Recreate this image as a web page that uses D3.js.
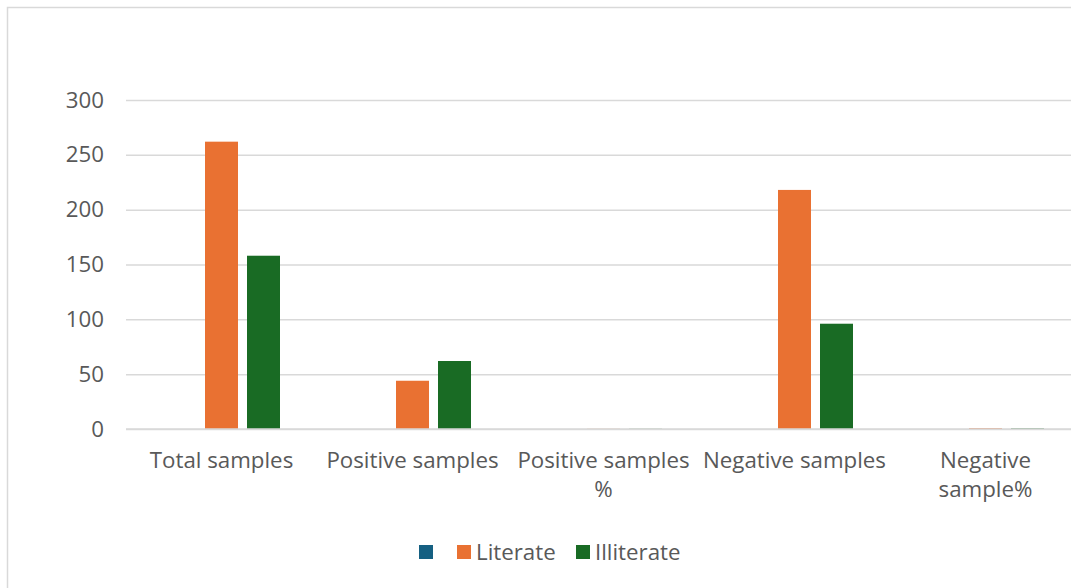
<!DOCTYPE html>
<html><head><meta charset="utf-8">
<script src="https://cdn.jsdelivr.net/npm/d3@7"></script>
<style>
html,body{margin:0;padding:0;background:#fff;}
svg{display:block;}
text{font-family:"Open Sans","Liberation Sans",sans-serif;fill:#595959;}
</style></head><body>
<svg id="chart" width="1071" height="588"></svg>
<script>
const categories = ["Total samples","Positive samples","Positive samples %","Negative samples","Negative sample%"];
const categoryLabels = [["Total samples"],["Positive samples"],["Positive samples","%"],["Negative samples"],["Negative","sample%"]];
const seriesNames = ["", "Literate", "Illiterate"];
const seriesColors = ["#156082", "#E97132", "#196B24"];
const blankValues = [0, 0, 0, 0, 0];
const literateValues = [262, 44, 0.17, 218, 0.83];
const illiterateValues = [158, 62, 0.2, 96, 0.61];
const yTicks = [0, 50, 100, 150, 200, 250, 300];

const seriesValues = [blankValues, literateValues, illiterateValues];
const svg = d3.select("#chart");
const FS = "22.3px";

// chart area border
svg.append("rect").attr("x",7.5).attr("y",7.5).attr("width",1080).attr("height",600)
  .attr("fill","#fff").attr("stroke","#d9d9d9").attr("stroke-width",1.5);

const plotLeft = 126, bandW = 191;
const x0 = d3.scaleBand().domain(categories).range([plotLeft, plotLeft + bandW*categories.length]).paddingInner(0).paddingOuter(0);
const x1 = d3.scaleBand().domain(d3.range(seriesNames.length)).range([37, 37+117]).paddingInner(9/42).paddingOuter(0);
const y = d3.scaleLinear().domain([0,300]).range([429,100]);

// gridlines
const yAxis = d3.axisLeft(y).tickValues(yTicks).tickSize(-(bandW*categories.length)).tickPadding(22);
const gy = svg.append("g").attr("transform",`translate(${plotLeft},0)`).call(yAxis);
gy.select(".domain").remove();
gy.selectAll(".tick line").attr("stroke","#d9d9d9").attr("stroke-width",1.5);
gy.selectAll(".tick text").style("font-size",FS).attr("fill","#595959");

// bars
const groups = svg.append("g").selectAll("g").data(categories).join("g")
  .attr("transform", d => `translate(${x0(d)},0)`);
groups.selectAll("rect").data((d,i) => seriesValues.map((vals,s)=>({s, v: vals[i]})))
  .join("rect")
  .attr("x", d => x1(d.s))
  .attr("width", x1.bandwidth())
  .attr("y", d => y(d.v))
  .attr("height", d => y(0) - y(d.v))
  .attr("fill", d => seriesColors[d.s]);

// baseline
svg.append("line").attr("x1",plotLeft).attr("x2",plotLeft+bandW*categories.length)
  .attr("y1",y(0)).attr("y2",y(0)).attr("stroke","#d9d9d9").attr("stroke-width",1.5);

// category labels
const lab = svg.append("g").selectAll("text").data(categories).join("text")
  .attr("text-anchor","middle")
  .attr("x", d => x0(d) + x0.bandwidth()/2)
  .attr("y", 467.5)
  .style("font-size",FS);
lab.each(function(d,i){
  const t = d3.select(this);
  categoryLabels[i].forEach((line,j)=>{
    t.append("tspan").attr("x", x0(d)+x0.bandwidth()/2).attr("dy", j===0?0:29).text(line);
  });
});

// legend
const legendItems = [{x:419},{x:457},{x:576}];
const lg = svg.append("g");
seriesNames.forEach((n,i)=>{
  lg.append("rect").attr("x",legendItems[i].x).attr("y",545).attr("width",14).attr("height",14).attr("fill",seriesColors[i]);
  lg.append("text").attr("x",legendItems[i].x+19).attr("y",560).style("font-size",FS).text(n);
});
</script>
</body></html>
